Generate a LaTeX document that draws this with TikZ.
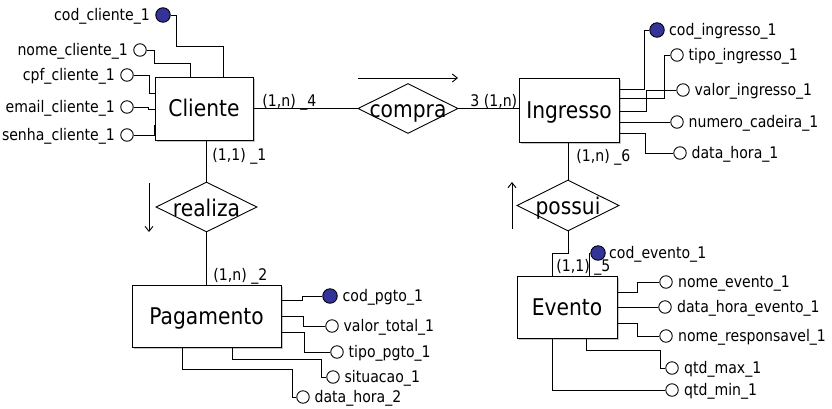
\documentclass[tikz,border=0pt]{standalone}
\usepackage{fontspec}
\setmainfont{DejaVu Sans}[FakeStretch=0.88]
\usetikzlibrary{shapes.geometric,shadows,arrows.meta}
\definecolor{keyblue}{RGB}{51,51,153}
\newcommand\reltext[1]{\raisebox{-9pt}[0pt][0pt]{\makebox[0pt]{\fontsize{23}{26}\selectfont #1}}}
\begin{document}
\begin{tikzpicture}[x=1pt,y=-1pt,line width=0.9pt,
  entity/.style={draw, fill=white, inner sep=0pt, text height=16pt, text depth=0pt,
    font=\fontsize{23}{26}\selectfont,
    drop shadow={shadow xshift=1.5pt, shadow yshift=-1.5pt, opacity=0.45}},
  rel/.style={draw, diamond, inner sep=0pt, minimum width=100pt, minimum height=50pt},
  attr/.style={draw, circle, fill=white, inner sep=0pt, minimum size=12.5pt},
  key/.style={attr, fill=keyblue, minimum size=14.5pt},
  lbl/.style={inner sep=0pt, font=\fontsize{16}{18}\selectfont},
  llbl/.style={lbl, anchor=base east},
  rlbl/.style={lbl, anchor=base west},
  dirarrow/.style={-{Straight Barb[length=5pt,width=8pt]}}
]
\fill[white] (0,0) rectangle (832,408);
\useasboundingbox (0,0) rectangle (832,408);

% entities
\node[entity, minimum width=98pt, minimum height=63pt] (cli) at (204,108.5) {Cliente};
\node[entity, minimum width=100pt, minimum height=64pt] (ing) at (569,110) {Ingresso};
\node[entity, minimum width=149pt, minimum height=62pt] (pag) at (206.5,316) {Pagamento};
\node[entity, minimum width=100pt, minimum height=62pt] (ev) at (567,307) {Evento};

% relationships
\node[rel] (compra) at (408,108.5) {\reltext{compra}};
\node[rel, minimum width=101pt] (realiza) at (206.5,207) {\reltext{realiza}};
\node[rel, minimum width=102pt, minimum height=51pt] (possui) at (568,205.5) {\reltext{possui}};

% relationship connectors
\draw (cli.east |- compra.west) -- (compra.west);
\draw (compra.east) -- (compra.east -| ing.west);
\draw (cli.south -| realiza.north) -- (realiza.north);
\draw (realiza.south) -- (realiza.south |- pag.north);
\draw (possui.north |- ing.south) -- (possui.north);
\draw (possui.south) |- (552,253) -- (552,253 |- ev.north);

% cardinalities
\node[rlbl] (c4) at (262,106) {(1,n) \_4};
\node[rlbl] (c3) at (470,106) {3 (1,n)};
\node[rlbl] (c1) at (212,160) {(1,1) \_1};
\node[rlbl] (c2) at (213,280) {(1,n) \_2};
\node[rlbl] (c6) at (576,161) {(1,n) \_6};
\node[rlbl] (c5) at (556,271) {(1,1) \_5};

% direction arrows
\coordinate (a1s) at (358,78); \coordinate (a1e) at (458,78);
\coordinate (a2s) at (149,183); \coordinate (a2e) at (149,232);
\coordinate (a3s) at (512,229); \coordinate (a3e) at (512,182);
\draw[dirarrow] (a1s) -- (a1e);
\draw[dirarrow] (a2s) -- (a2e);
\draw[dirarrow] (a3s) -- (a3e);

% Cliente attributes
\node[key] (ccod) at (163,15) {};
\node[attr] (cnome) at (140,50) {};
\node[attr] (ccpf) at (127,75) {};
\node[attr] (cemail) at (127,107) {};
\node[attr] (csenha) at (127,135) {};
\node[llbl] (lccod) at ([xshift=-5pt,yshift=-5.5pt]ccod.west) {cod\_cliente\_1};
\node[llbl] (lcnome) at ([xshift=-5pt,yshift=-5.5pt]cnome.west) {nome\_cliente\_1};
\node[llbl] (lccpf) at ([xshift=-5pt,yshift=-5.5pt]ccpf.west) {cpf\_cliente\_1};
\node[llbl] (lcemail) at ([xshift=-5pt,yshift=-5.5pt]cemail.west) {email\_cliente\_1};
\node[llbl] (lcsenha) at ([xshift=-5pt,yshift=-5.5pt]csenha.west) {senha\_cliente\_1};
\draw (ccod.east) -| (176,46) -| (223,46 |- cli.north);
\draw (cnome.east) -| (154,63) -| (190,63 |- cli.north);
\draw (ccpf.east) -| (149,93) -- (cli.west |- 149,93);
\draw (cemail.east) -| (148,109) -- (cli.west |- 148,109);
\draw (csenha.east) -| (154,125) -- (cli.west |- 154,125);

% Ingresso attributes
\node[key] (icod) at (657,30) {};
\node[attr] (itipo) at (677,55) {};
\node[attr] (ivalor) at (683,90) {};
\node[attr] (inum) at (677,122) {};
\node[attr] (idata) at (680,153) {};
\node[rlbl] (licod) at ([xshift=4pt,yshift=-5.5pt]icod.east) {cod\_ingresso\_1};
\node[rlbl] (litipo) at ([xshift=4.5pt,yshift=-5.5pt]itipo.east) {tipo\_ingresso\_1};
\node[rlbl] (livalor) at ([xshift=4.5pt,yshift=-5.5pt]ivalor.east) {valor\_ingresso\_1};
\node[rlbl] (linum) at ([xshift=4.5pt,yshift=-5.5pt]inum.east) {numero\_cadeira\_1};
\node[rlbl] (lidata) at ([xshift=4.5pt,yshift=-5.5pt]idata.east) {data\_hora\_1};
\draw (ing.east |- 0,89) -| (644,30) -- (icod.west);
\draw (ing.east |- 0,98) -| (664,55) -- (itipo.west);
\draw (ing.east |- 0,111) -| (646,90) -- (ivalor.west);
\draw (ing.east |- 0,122) -- (inum.west);
\draw (ing.east |- 0,133) -| (645,153) -- (idata.west);

% Pagamento attributes
\node[key] (pcod) at (330,296) {};
\node[attr] (pval) at (332,326) {};
\node[attr] (ptipo) at (337,352) {};
\node[attr] (psit) at (333,377) {};
\node[attr] (pdata) at (303,397) {};
\node[rlbl] (lpcod) at ([xshift=4.5pt,yshift=-5.5pt]pcod.east) {cod\_pgto\_1};
\node[rlbl] (lpval) at ([xshift=4.5pt,yshift=-5.5pt]pval.east) {valor\_total\_1};
\node[rlbl] (lptipo) at ([xshift=4.5pt,yshift=-5.5pt]ptipo.east) {tipo\_pgto\_1};
\node[rlbl] (lpsit) at ([xshift=4.5pt,yshift=-5.5pt]psit.east) {situacao\_1};
\node[rlbl] (lpdata) at ([xshift=4.5pt,yshift=-5.5pt]pdata.east) {data\_hora\_2};
\draw (pag.east |- 0,300) -| (302,296) -- (pcod.west);
\draw (pag.east |- 0,316) -| (303,326) -- (pval.west);
\draw (pag.east |- 0,332) -| (304,352) -- (ptipo.west);
\draw (pag.south -| 232,0) |- (321,359) |- (psit.west);
\draw (pag.south -| 182,0) |- (292,369) |- (pdata.west);

% Evento attributes
\node[key] (ecod) at (598,253) {};
\node[attr] (enome) at (666,282) {};
\node[attr] (edata) at (665,307) {};
\node[attr] (eresp) at (666,336) {};
\node[attr] (emax) at (672,368) {};
\node[attr] (emin) at (672,390) {};
\node[rlbl] (lecod) at ([xshift=3pt,yshift=-5.5pt]ecod.east) {cod\_evento\_1};
\node[rlbl] (lenome) at ([xshift=5pt,yshift=-5.5pt]enome.east) {nome\_evento\_1};
\node[rlbl] (ledata) at ([xshift=5pt,yshift=-5.5pt]edata.east) {data\_hora\_evento\_1};
\node[rlbl] (leresp) at ([xshift=5pt,yshift=-5.5pt]eresp.east) {nome\_responsavel\_1};
\node[rlbl] (lemax) at ([xshift=5pt,yshift=-5.5pt]emax.east) {qtd\_max\_1};
\node[rlbl] (lemin) at ([xshift=5pt,yshift=-5.5pt]emin.east) {qtd\_min\_1};
\draw (ev.north -| 589,0) |- (ecod.west);
\draw (ev.east |- 0,292) -| (637,282) -- (enome.west);
\draw (ev.east |- 0,307) -- (edata.west);
\draw (ev.east |- 0,323) -| (637,336) -- (eresp.west);
\draw (ev.south -| 586,0) |- (660,350) |- (emax.west);
\draw (ev.south -| 552,0) |- (emin.west);
\end{tikzpicture}
\end{document}
